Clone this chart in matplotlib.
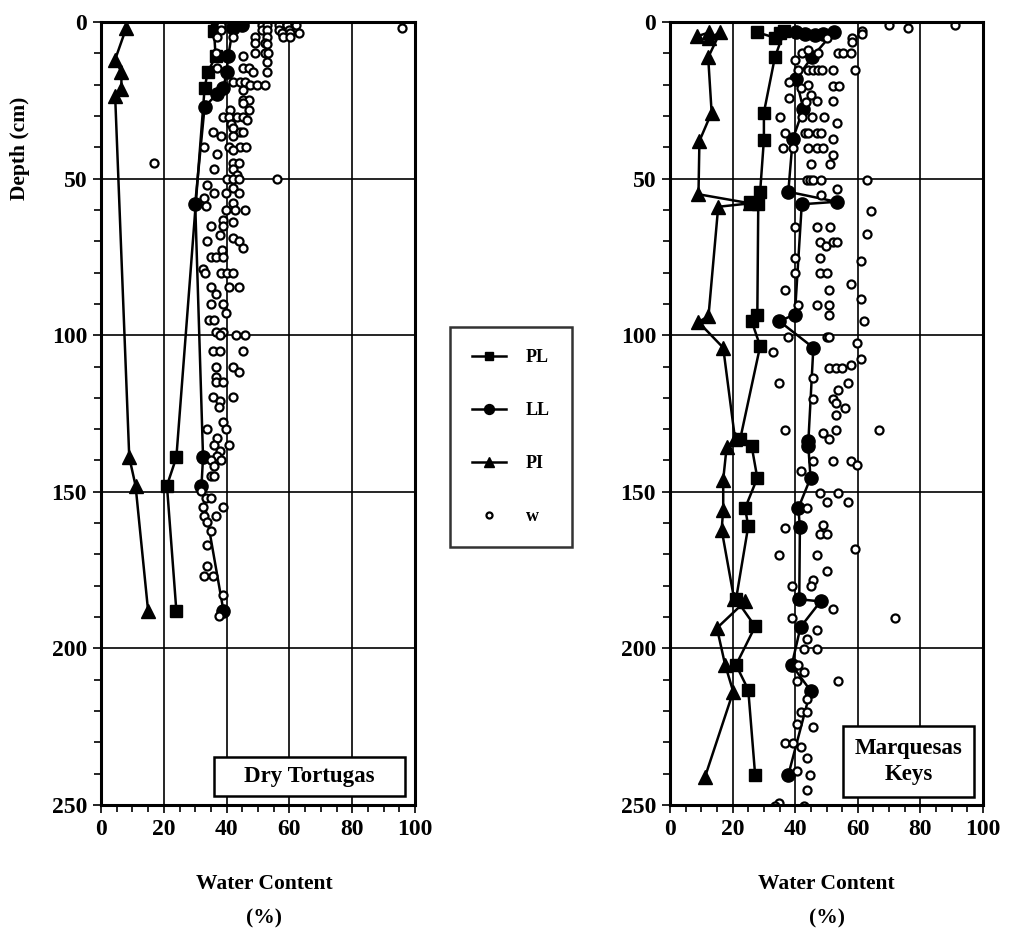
import matplotlib
matplotlib.use('Agg')
import matplotlib.pyplot as plt
from matplotlib.patches import Rectangle
from matplotlib.ticker import MultipleLocator

plt.rcParams['font.family'] = ['Liberation Serif', 'DejaVu Serif']
plt.rcParams['font.weight'] = 'bold'

# Dry Tortugas -- Atterberg limits (value %, depth cm)
dt_pl_depth = [1, 3, 11, 16, 21, 139, 148, 188]
dt_pl = [37, 36, 36.5, 34, 33, 24, 21, 24]
dt_ll_depth = [1, 2, 11, 16, 21, 23, 27, 58, 139, 148, 188]
dt_ll = [45, 42, 40.5, 40, 39, 37, 33, 30, 32.5, 32, 39]
dt_pi_depth = [2, 12, 16, 21.5, 23.5, 139, 148, 188]
dt_pi = [8, 4.5, 6.5, 6.5, 4.5, 9, 11, 15]

# Dry Tortugas -- water content
dt_w_depth = [1, 1, 1, 1, 1, 1, 2, 2.6, 2.6, 2.6, 2.6, 2.6, 3.6, 3.6, 3.6,
              4.7, 4.7, 4.7, 4.7, 4.7, 4.7, 6.6, 6.6, 7, 9.8, 9.8, 9.8, 9.8, 10.8,
              12.7, 14.8, 14.8, 14.8, 15.9, 15.9, 19, 19, 19, 20.1, 20.1, 20.1,
              21.7, 24.9, 24.9, 26, 28.1, 28.1, 30.2, 30.2, 30.2, 30.2, 31.3, 32.6,
              34, 35, 35, 35, 36.4, 36.4, 39.8, 39.8, 39.8, 39.8, 40.8, 42.1, 45,
              45.1, 45.1, 47, 47, 48.8, 50.1, 50.1, 50.1, 50.1, 52, 53.1, 54.7, 54.7,
              54.7, 56.3, 57.9, 58.7, 60, 60, 60, 63.2, 64, 65.1, 65.1, 68, 69.1,
              69.8, 69.8, 72.2, 72.8, 74.9, 74.9, 74.9, 79, 80.2, 80.2, 80.2, 80.2,
              84.7, 84.7, 84.7, 86.8, 90, 90, 92.9, 95.1, 95.1, 99.1, 99.1, 100, 100,
              100, 105.2, 105.2, 105.2, 110.2, 110.2, 111.9, 113.2, 114.8, 114.8,
              119.8, 119.8, 121.1, 123, 127.8, 130, 130, 132.8, 135, 135, 137.1,
              138.7, 140, 140, 141.9, 144.9, 144.9, 149.9, 152, 152, 154.9, 154.9,
              157.8, 157.8, 159.8, 162.6, 166.9, 173.8, 176.8, 176.8, 182.8, 189.7]
dt_w = [38.1, 51.2, 53, 56.8, 59.1, 62.1, 96, 38.1, 51.2, 53, 56.8, 60, 63.2, 57.5, 60.2,
        36.8, 41.9, 49, 53, 57.9, 60.2, 49, 52.2, 53, 36.6, 49, 52.2, 53.3, 45.1,
        53, 37, 45.3, 47.2, 48.3, 53, 42.1, 44.3, 45.9, 47.4, 49.6, 52.2,
        45.3, 45.3, 47.2, 45.3, 41.1, 47.2, 39, 40.9, 43.2, 45.3, 46.4, 41.3,
        41.9, 35.8, 44.3, 45.3, 41.9, 38.1, 32.8, 40.9, 44.3, 46.2, 42.1, 36.8, 17,
        41.9, 44, 36, 42.1, 43.4, 40, 42.1, 44, 55.9, 33.9, 42.1, 36, 39.8,
        44, 32.8, 41.9, 33.4, 39.8, 42.7, 45.9, 38.9, 41.9, 34.9, 38.9, 37.9, 41.9,
        33.9, 44, 45.3, 38.4, 34.9, 36.6, 38.7, 32.4, 33.1, 38.1, 40.2, 42.1,
        34.9, 40.9, 44, 36.6, 34.9, 38.9, 39.8, 34.5, 36, 36.6, 38.9, 37.9, 43,
        45.9, 35.6, 37.9, 45.1, 36.6, 41.9, 44, 36.6, 36.6, 38.9,
        35.8, 41.9, 37.9, 37.7, 38.9, 33.9, 39.8, 36.8, 36, 40.9, 37.9,
        36.8, 34.9, 38.1, 36, 34.9, 36, 32, 33.4, 34.9, 32.6, 38.9,
        32.8, 36.6, 33.6, 34.9, 33.6, 33.9, 32.8, 35.8, 38.9, 37.7]

# Marquesas Keys -- Atterberg limits
mk_pl_depth = [3.3, 5.0, 3.5, 3.0, 11.3, 28.9, 37.6, 54.2, 57.6, 58.2, 93.4, 95.5,
               103.5, 133.3, 135.5, 145.6, 155.2, 161, 184.3, 193, 205.3, 213.2, 240.4]
mk_pl = [27.9, 33.5, 35, 36.5, 33.5, 30, 30, 28.8, 25.6, 28.2, 27.9, 26.1,
         28.8, 22.4, 26.1, 27.9, 24, 25, 21.1, 27.2, 21.1, 25, 27.2]
mk_ll_depth = [3.1, 3.8, 4.2, 3.8, 3.1, 11.3, 18.2, 27.8, 37.4, 54.2, 57.4, 58.2,
               93.4, 95.5, 104, 133.9, 135.5, 145.6, 155.2, 161.2, 184.3, 185,
               193.2, 205.3, 213.5, 240.4]
mk_ll = [40.3, 43.1, 46.3, 49, 52.4, 45.3, 40.3, 42.6, 39.2, 37.8, 53.2, 42.1,
         39.9, 34.9, 45.8, 44.2, 44.2, 44.9, 41, 41.5, 41.3, 48.1,
         41.7, 38.9, 44.9, 37.8]
mk_pi_depth = [4.6, 3.3, 5.2, 3.3, 11.3, 28.9, 38, 55, 57.9, 59, 93.9, 95.8, 104,
               133.3, 135.7, 146.1, 155.7, 162.1, 184.3, 185, 193.5, 205.2, 213.8, 241]
mk_pi = [8.5, 12.6, 12.6, 16, 12.2, 13.3, 9.4, 9.1, 25.6, 15.4, 12.3, 9.1, 17,
         20.8, 18.1, 17, 17, 16.5, 20.5, 24, 15, 17.6, 20.2, 11.2]

# Marquesas Keys -- water content
mk_w_depth = [1, 2, 1, 2.8, 3.8, 5, 6.3, 5.2, 9.9, 8.8, 9.9, 9.9, 9.9, 9.9, 12.2,
              15.2, 15.2, 15.2, 15.2, 15.2, 15.2, 15.2, 19.3, 20.1, 20.4, 20.4, 21.2,
              24.3, 23.2, 25.2, 25.2, 25.5, 30.3, 30.3, 30.3, 30.3, 32.4,
              35.3, 35.3, 35.3, 35.3, 35.3, 37.4, 40.3, 40.3, 40.3, 40.3, 40.3, 42.4,
              45.4, 45.4, 50.5, 50.5, 50.5, 50.5, 50.5, 53.4, 55.3, 60.3,
              65.4, 65.4, 65.4, 67.6, 70.4, 71.5, 70.4, 70.4, 75.5, 75.5, 76.3,
              80.3, 80.3, 80.3, 83.5, 85.6, 85.6, 88.6, 90.5, 90.5, 90.5, 93.4,
              95.5, 100.5, 100.5, 100.5, 102.4, 105.4, 107.5, 110.4, 110.4, 110.4,
              109.4, 113.6, 115.4, 115.4, 117.4, 120.3, 120.3, 121.6, 123.2, 125.4,
              130.4, 130.4, 130.4, 131.2, 133.3, 140.3, 140.3, 140.3, 141.3, 143.2,
              150.4, 150.4, 153.4, 153.4, 155.2, 161.6, 160.5, 163.4, 163.4, 168.3,
              170.1, 170.1, 175.4, 178.3, 180.2, 180.2, 187.5, 190.3, 190.3, 194.1,
              197.1, 200.2, 200.2, 205.3, 207.4, 210.3, 210.3, 216.2, 220.2, 220.2,
              224.1, 225.2, 230.1, 230.1, 231.4, 235.1, 239, 240.4, 245.2, 249.3,
              250.3, 250.3]
mk_w = [70.1, 76.1, 91, 61.2, 61.2, 58, 58, 50, 42.1, 44.2, 47.4, 53.8, 55.2, 57.7, 39.9,
        41, 44.2, 45.8, 47.4, 48.5, 52, 59.1, 38.1, 44.2, 52, 54.1, 41.7,
        38.1, 45, 47.1, 52, 43.4, 35.1, 42.1, 45.3, 49.2, 53.2,
        36.7, 43.1, 44.2, 47.1, 48.1, 52, 36, 39.4, 44.2, 46.9, 49, 52.2,
        45, 51.1, 43.7, 44.7, 45.6, 48.1, 63, 53.2, 48.1, 64.1,
        39.9, 47.1, 51.1, 63, 47.9, 49.8, 52, 53.2, 39.9, 47.9, 60.9,
        39.9, 47.9, 50, 57.7, 36.7, 50.9, 60.9, 41, 47.1, 50.9, 50.9,
        62, 37.8, 50, 50.9, 59.8, 32.8, 60.9, 50.9, 53, 54.8,
        57.7, 45.8, 34.9, 57, 53.8, 45.8, 52, 53, 55.9, 53,
        36.7, 53, 66.9, 49, 50.9, 45.8, 52, 57.7, 59.8, 41.7,
        47.9, 53.8, 50, 57, 43.9, 36.7, 49, 47.9, 50, 59.1,
        34.9, 47.1, 50, 45.8, 38.9, 44.9, 52, 38.9, 71.9, 47.1,
        43.9, 42.8, 47.1, 41, 42.8, 40.7, 53.8, 43.9, 41.7, 43.9,
        40.7, 45.8, 36.7, 39.4, 41.7, 43.9, 40.7, 44.7, 43.9, 34.9,
        33.5, 42.8]

sites = ['Dry Tortugas', 'Marquesas\nKeys']
legend_labels = ['PL', 'LL', 'PI', 'w']

fig = plt.figure(figsize=(10.15, 9.41), dpi=100)
ax1 = fig.add_axes([101 / 1015, 1 - 805 / 941, 314 / 1015, 783 / 941])
ax2 = fig.add_axes([670 / 1015, 1 - 805 / 941, 313 / 1015, 783 / 941])

line_kw = dict(color='black', lw=1.8)


def draw_panel(ax, pl_d, pl, ll_d, ll, pi_d, pi, w_d, w):
    h_pl, = ax.plot(pl, pl_d, marker='s', ms=8.5, mfc='black', mec='black', **line_kw)
    h_ll, = ax.plot(ll, ll_d, marker='o', ms=9.5, mfc='black', mec='black', **line_kw)
    h_pi, = ax.plot(pi, pi_d, marker='^', ms=9.5, mfc='black', mec='black', **line_kw)
    h_w, = ax.plot(w, w_d, ls='none', marker='o', ms=5.8, mfc='white', mec='black', mew=1.6)

    ax.set_xlim(0, 100)
    ax.set_ylim(250, 0)
    ax.xaxis.set_major_locator(MultipleLocator(20))
    ax.xaxis.set_minor_locator(MultipleLocator(5))
    ax.yaxis.set_major_locator(MultipleLocator(50))
    ax.yaxis.set_minor_locator(MultipleLocator(10))
    ax.tick_params(which='both', direction='out', top=False, right=False,
                   width=1.2, color='black')
    ax.tick_params(which='major', length=6, labelsize=17, pad=4)
    ax.tick_params(which='minor', length=5)
    for lab in ax.get_xticklabels() + ax.get_yticklabels():
        lab.set_fontweight('bold')
    ax.grid(True, which='major', color='black', lw=1.2)
    ax.set_axisbelow(True)
    for s in ax.spines.values():
        s.set_linewidth(2.2)
    return [h_pl, h_ll, h_pi, h_w]


handles = draw_panel(ax1, dt_pl_depth, dt_pl, dt_ll_depth, dt_ll, dt_pi_depth, dt_pi,
                     dt_w_depth, dt_w)
draw_panel(ax2, mk_pl_depth, mk_pl, mk_ll_depth, mk_ll, mk_pi_depth, mk_pi,
           mk_w_depth, mk_w)

ax1.set_ylabel('Depth (cm)', fontsize=15.5, fontweight='bold')
ax1.yaxis.set_label_coords(-0.226, 0.839)

for ax, xc in [(ax1, 0.519), (ax2, 0.5)]:
    ax.set_xlabel('Water Content\n(%)', fontsize=15.5, fontweight='bold', linespacing=2.0)
    ax.xaxis.set_label_coords(xc, -0.088)

# site name boxes
ax1.add_patch(Rectangle((0.360, 0.0115), 0.608, 0.050, transform=ax1.transAxes,
                        fc='white', ec='black', lw=1.8, zorder=5))
ax1.text(0.664, 0.036, sites[0], transform=ax1.transAxes, ha='center', va='center',
         fontsize=16.5, fontweight='bold', zorder=6)
ax2.add_patch(Rectangle((0.553, 0.0102), 0.418, 0.0907, transform=ax2.transAxes,
                        fc='white', ec='black', lw=1.8, zorder=5))
ax2.text(0.762, 0.0556, sites[1], transform=ax2.transAxes, ha='center', va='center',
         fontsize=16.5, fontweight='bold', linespacing=1.35, zorder=6)

leg = fig.legend(handles, legend_labels, loc='center', bbox_to_anchor=(511 / 1015, 1 - 437 / 941),
                 frameon=True, fancybox=False, edgecolor='black', fontsize=13,
                 markerscale=0.75, handlelength=1.9, handletextpad=1.1,
                 labelspacing=2.0, borderpad=1.2)
leg.get_frame().set_linewidth(1.8)
for t in leg.get_texts():
    t.set_fontweight('bold')

fig.savefig('out.png', dpi=100)
